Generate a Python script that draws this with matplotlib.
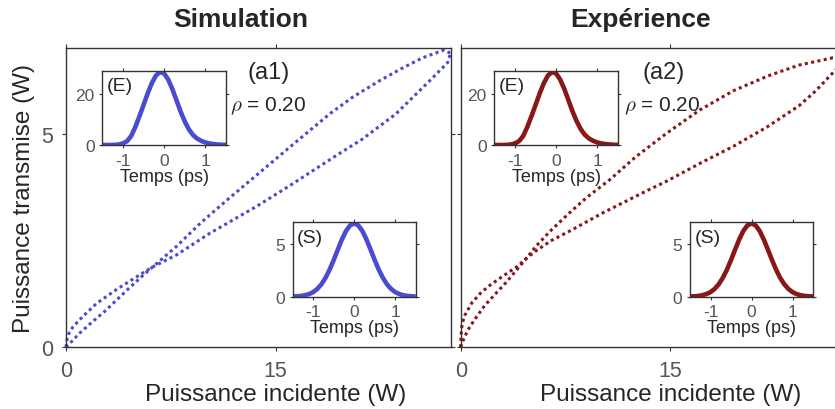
import numpy as np
import matplotlib.pyplot as plt
from matplotlib import transforms

plt.rcParams['font.family'] = ['Liberation Sans', 'DejaVu Sans']
plt.rcParams['mathtext.fontset'] = 'cm'
plt.rcParams['axes.unicode_minus'] = False

# --- boucles d'hysteresis (puissance incidente / transmise, W) ---
sim_xa = [0, 0.05, 0.2, 0.5, 1.2, 2.2, 3.6, 5.4, 6.2, 7.9, 10.3, 13.6, 16.0,
          19.3, 21.2, 23.6, 26.0, 27.3, 27.5]
sim_ya = [0, 0.15, 0.32, 0.48, 0.72, 1.03, 1.35, 1.72, 1.88, 2.16, 2.67, 3.29,
          3.78, 4.48, 4.87, 5.46, 6.23, 6.66, 6.88]
sim_xb = [0, 0.3, 1.0, 1.9, 2.8, 3.6, 4.5, 5.5, 6.2, 7.9, 9.6, 11.5, 13.5,
          16.0, 18.9, 20.5, 22.4, 24.0, 25.5, 27.0, 27.5]
sim_yb = [0, 0.1, 0.34, 0.6, 0.85, 1.1, 1.38, 1.68, 1.88, 2.36, 2.9, 3.44,
          3.99, 4.68, 5.47, 5.85, 6.23, 6.52, 6.77, 6.95, 6.88]

exp_xa = [0, 0.03, 0.1, 0.3, 0.8, 1.4, 2.0, 3.0, 4.0, 4.7, 5.4, 6.5, 7.8,
          10.2, 13.3, 14.7, 17.1, 19.5, 21.9, 24.2, 25.4, 26.7, 27.5]
exp_ya = [0, 0.3, 0.55, 0.75, 1.04, 1.26, 1.43, 1.66, 1.88, 2.08, 2.26, 2.5,
          2.72, 3.15, 3.66, 3.88, 4.3, 4.7, 5.15, 5.65, 6.0, 6.45, 6.72]
exp_xb = [0, 0.1, 0.3, 0.6, 1.0, 1.7, 2.4, 3.2, 3.9, 4.7, 5.4, 6.5, 7.8, 9.0,
          10.7, 12.5, 14.7, 17.1, 19.5, 22.0, 24.2, 26.6, 27.5]
exp_yb = [0, 0.1, 0.26, 0.45, 0.65, 0.97, 1.22, 1.5, 1.77, 2.08, 2.37, 2.75,
          3.15, 3.5, 3.93, 4.45, 5.0, 5.55, 6.0, 6.35, 6.6, 6.77, 6.74]

# --- impulsions entree (E) et sortie (S) ---
t_ps = [-1.5, -1.4, -1.3, -1.2, -1.1, -1.0, -0.9, -0.8, -0.7, -0.6, -0.5,
        -0.4, -0.3, -0.2, -0.1, 0.0, 0.1, 0.2, 0.3, 0.4, 0.5, 0.6, 0.7, 0.8,
        0.9, 1.0, 1.1, 1.2, 1.3, 1.4, 1.5]
p_entree = [0.0, 0.0, 0.0, 0.05, 0.2, 0.6, 1.5, 3.5, 7.0, 11.2, 15.6, 20.1,
            24.1, 27.1, 28.5, 27.9, 25.5, 21.8, 17.4, 13.0, 9.2, 6.1, 3.9,
            2.5, 1.6, 1.0, 0.6, 0.35, 0.2, 0.1, 0.05]
p_sortie = [0.02, 0.04, 0.07, 0.14, 0.25, 0.43, 0.73, 1.17, 1.77, 2.54,
            3.45, 4.43, 5.38, 6.18, 6.71, 6.9, 6.71, 6.18, 5.38, 4.43, 3.45,
            2.54, 1.77, 1.17, 0.73, 0.43, 0.25, 0.14, 0.07, 0.04, 0.02]

BLEU = '#4b4bcf'
ROUGE = '#881717'
GRIS = '#555555'
NOIR = '#262626'
W, H = 835, 410

fig = plt.figure(figsize=(W / 100, H / 100), dpi=100)


def rect_px(x0, y0, x1, y1):
    # pixels (haut-gauche) -> fractions de figure
    return [x0 / W, 1 - y1 / H, (x1 - x0) / W, (y1 - y0) / H]


def style(ax, size):
    for s in ax.spines.values():
        s.set_color('#333333')
        s.set_linewidth(1.0)
    ax.tick_params(direction='out', length=3, width=0.8, top=True, right=True,
                   labelsize=size, labelcolor=GRIS, color='#333333')


def panneau(x0, xa, ya, xb, yb, color, tag, ylabels):
    ax = fig.add_axes(rect_px(x0, 49, x0 + 384.5, 348.3))
    for xs, ys in ((xa, ya), (xb, yb)):
        ax.plot(xs, ys, color=color, lw=2.2, ls=(0, (1, 1.1)),
                dash_capstyle='butt', clip_on=False)
    ax.set_xlim(0, 27.5)
    ax.set_ylim(0, 7)
    ax.set_xticks([0, 15])
    ax.set_yticks([0, 5])
    style(ax, 15.5)
    ax.tick_params(pad=6)
    if not ylabels:
        ax.set_yticklabels([])
    trans = transforms.blended_transform_factory(ax.transData, ax.transAxes)
    ax.text(15, -0.156, 'Puissance incidente (W)', transform=trans,
            ha='center', va='center', fontsize=17.5, color=NOIR)
    ax.text(0.527, 0.92, tag, transform=ax.transAxes, ha='center',
            va='center', fontsize=17, color=NOIR)
    ax.text(0.426, 0.81, r'$\rho$ = 0.20', transform=ax.transAxes,
            ha='left', va='center', fontsize=15, color=NOIR)
    return ax


def encart(rect, t, p, color, ymax, yt, tag):
    ax = fig.add_axes(rect)
    ax.plot(t, p, color=color, lw=3.3, solid_capstyle='butt')
    ax.set_xlim(-1.5, 1.5)
    ax.set_ylim(0, ymax)
    ax.set_xticks([-1, 0, 1])
    ax.set_yticks(yt)
    style(ax, 12.5)
    ax.tick_params(length=2.5, pad=3)
    ax.set_xlabel('Temps (ps)', fontsize=13, color=NOIR, labelpad=0)
    ax.text(0.035, 0.8, tag, transform=ax.transAxes, ha='left',
            va='center', fontsize=14, color=NOIR)
    return ax


ax1 = panneau(66, sim_xa, sim_ya, sim_xb, sim_yb, BLEU, '(a1)', True)
ax1.text(-0.109, 0.5, 'Puissance transmise (W)', transform=ax1.transAxes,
         rotation=90, ha='center', va='center', fontsize=17.5, color=NOIR)
ax2 = panneau(460.7, exp_xa, exp_ya, exp_xb, exp_yb, ROUGE, '(a2)', False)

encart(rect_px(102.3, 71.7, 226, 146), t_ps, p_entree, BLEU, 29, [0, 20], '(E)')
encart(rect_px(292.7, 223.3, 415.7, 297.7), t_ps, p_sortie, BLEU, 7, [0, 5], '(S)')
encart(rect_px(494.3, 71.7, 618, 146), t_ps, p_entree, ROUGE, 29, [0, 20], '(E)')
encart(rect_px(690, 223.3, 813, 297.7), t_ps, p_sortie, ROUGE, 7, [0, 5], '(S)')

fig.text(241 / W, 1 - 20 / H, 'Simulation', ha='center', va='center',
         fontsize=19, fontweight='bold', color=NOIR)
fig.text(641 / W, 1 - 20 / H, 'Expérience', ha='center', va='center',
         fontsize=19, fontweight='bold', color=NOIR)

fig.savefig('out.png', dpi=100)
